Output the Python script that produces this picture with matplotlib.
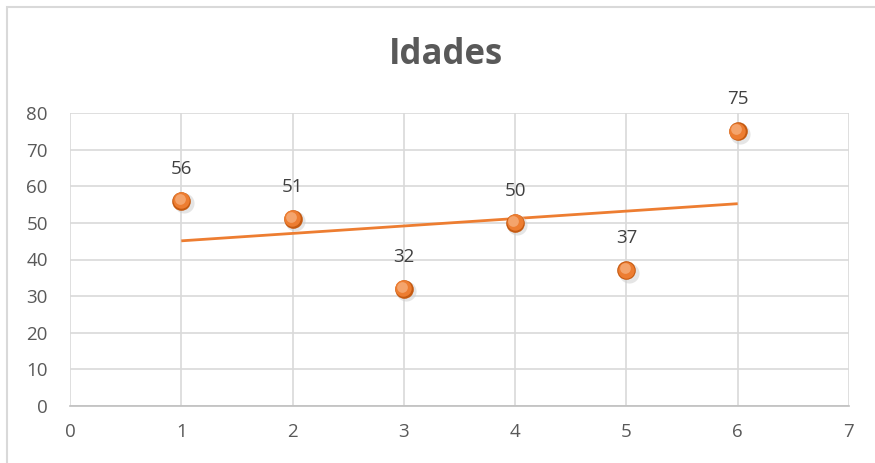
import numpy as np
import matplotlib
matplotlib.use("Agg")
import matplotlib.pyplot as plt
from matplotlib.patches import Rectangle

# data
idx = [1, 2, 3, 4, 5, 6]
idades = [56, 51, 32, 50, 37, 75]
title = "Idades"

plt.rcParams['font.family'] = ['Open Sans', 'DejaVu Sans']
orange = '#ED7D31'
txt = '#595959'
grid = '#d9d9d9'

fig = plt.figure(figsize=(8.75, 4.63), dpi=100)
ax = fig.add_axes([70/875, 1 - 406/463, (849 - 70)/875, (406 - 113)/463])

# chart frame (cropped at right/bottom like the reference)
fig.patches.append(Rectangle((7/875, -0.05), 1.2, 1 - 7/463 + 0.05,
                             transform=fig.transFigure, fill=False,
                             edgecolor=grid, lw=1.5))

# linear trendline
k, b = np.polyfit(idx, idades, 1)
tx = np.array([min(idx), max(idx)])
ax.plot(tx, k*tx + b, color=orange, lw=2, zorder=2, solid_capstyle='butt')

# markers with a bit of shading
xs = np.array(idx, dtype=float)
ys = np.array(idades, dtype=float)
ax.scatter(xs + 0.02, ys - 0.6, s=210, color='#cccccc', alpha=0.5, zorder=3, linewidths=0)
ax.scatter(xs, ys, s=180, color='#c55a11', zorder=3, linewidths=0)
ax.scatter(xs - 0.005, ys + 0.2, s=140, color=orange, zorder=4, linewidths=0)
ax.scatter(xs - 0.015, ys + 0.6, s=60, color='#f4a46c', zorder=5, linewidths=0)

for x, y in zip(idx, idades):
    ax.annotate(str(y), (x, y), xytext=(0, 19.5), textcoords='offset points',
                ha='center', va='baseline', fontsize=13.5, color='#404040')

ax.set_xlim(0, 7)
ax.set_ylim(0, 80)
ax.set_xticks(range(0, 8))
ax.set_yticks(range(0, 81, 10))
ax.grid(True, color=grid, lw=1.2)
ax.set_axisbelow(True)
for s in ['top', 'right', 'left']:
    ax.spines[s].set_visible(False)
ax.spines['bottom'].set_color('#bfbfbf')
ax.spines['bottom'].set_linewidth(1.2)
ax.tick_params(length=0, labelsize=13.5, labelcolor=txt)
ax.tick_params(axis='x', pad=12)
ax.tick_params(axis='y', pad=16)

fig.text(446/875, 1 - 55/463, title, ha='center', va='center',
         fontsize=25, fontweight='bold', color=txt)

fig.savefig('out.png', dpi=100)
